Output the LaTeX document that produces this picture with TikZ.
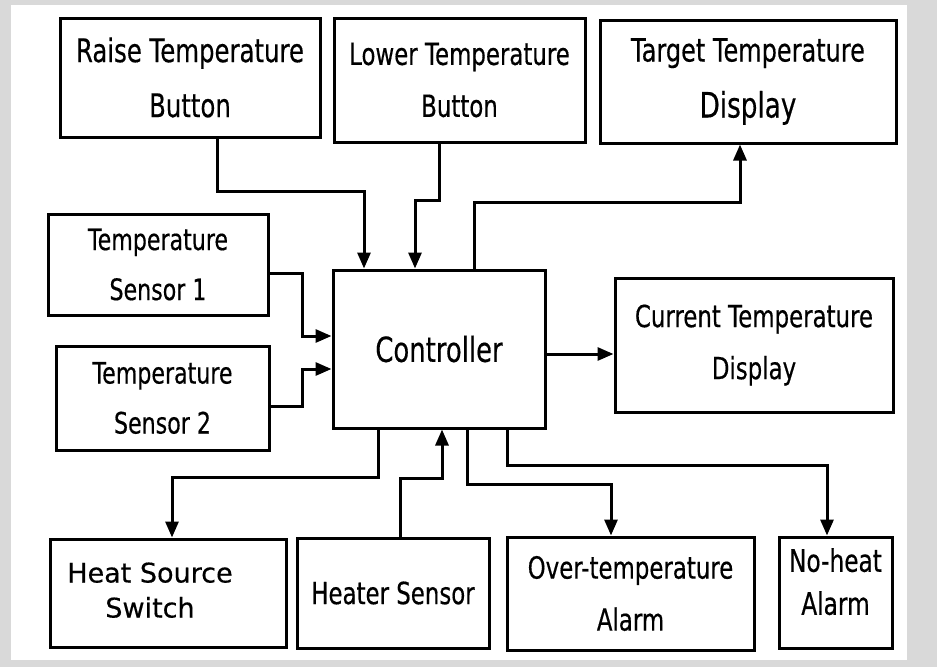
\documentclass[tikz,border=0pt]{standalone}
\usepackage{fontspec}
\setmainfont{DejaVu Sans}[FakeStretch=0.75, FakeBold=0.4]
\newfontfamily\widefont{DejaVu Sans}[FakeBold=0.4]
\usetikzlibrary{arrows.meta}

\begin{document}
\begin{tikzpicture}[x=1pt, y=-1pt,
    blk/.style={draw, line width=3pt, inner sep=0pt, align=center,
      font=\fontsize{30.5}{52}\selectfont},
    conn/.style={line width=3pt, -{Triangle[length=16pt,width=13pt]}}]
  \fill[black!15] (0,0) rectangle (937,667);
  \fill[white] (11,5) rectangle (907,660);
  \useasboundingbox (0,0) rectangle (937,667);

  \node[blk, minimum width=260pt, minimum height=119pt, font=\fontsize{32.5}{55}\selectfont] (raise) at (190,77.5) {Raise Temperature\\Button};
  \node[blk, minimum width=251pt, minimum height=124pt] (lower) at (459.5,80) {Lower Temperature\\Button};
  \node[blk, minimum width=296pt, minimum height=123pt, font=\fontsize{32}{56}\selectfont] (target) at (748,81.5) {Target Temperature\\{\fontsize{35}{56}\selectfont Display}};
  \node[blk, minimum width=220pt, minimum height=101pt, font=\fontsize{29.5}{50}\selectfont] (sensA) at (158,264.5) {Temperature\\Sensor 1};
  \node[blk, minimum width=212pt, minimum height=158pt, font=\fontsize{34.5}{40}\selectfont] (ctrl) at (439,349) {Controller};
  \node[blk, minimum width=278pt, minimum height=134pt] (current) at (754,345) {Current Temperature\\Display};
  \node[blk, minimum width=213pt, minimum height=104pt, font=\fontsize{29.5}{50}\selectfont] (sensB) at (162.5,398) {Temperature\\Sensor 2};
  \node[blk, minimum width=236pt, minimum height=108pt, font=\widefont\fontsize{27}{35}\selectfont] (switch) at (168,593) {\begin{tabular}{@{}c@{\hspace{36pt}}}Heat Source\\Switch\end{tabular}};
  \node[blk, minimum width=192pt, minimum height=110pt] (heater) at (393,593) {Heater Sensor};
  \node[blk, minimum width=247pt, minimum height=113pt] (over) at (630.5,593.5) {Over-temperature\\Alarm};
  \node[blk, minimum width=113pt, minimum height=111pt, text depth=22pt, font=\fontsize{31}{43}\selectfont] (noheat) at (835.5,592.5) {No-heat\\Alarm};

  \draw[conn] (raise.south -| 217,0) -- (217,191) -| (ctrl.north -| 364,0);
  \draw[conn] (lower.south -| 439,0) -- (439,200) -| (ctrl.north -| 415,0);
  \draw[conn] (ctrl.north -| 474,0) -- (474,202) -| (target.south -| 740,0);
  \draw[conn] (sensA.east |- 0,273) -| (302,336) -- (ctrl.west |- 0,336);
  \draw[conn] (sensB.east |- 0,406) -| (302,369) -- (ctrl.west |- 0,369);
  \draw[conn] (ctrl.east |- 0,354) -- (current.west |- 0,354);
  \draw[conn] (ctrl.south -| 378,0) -- (378,477) -| (switch.north -| 172,0);
  \draw[conn] (heater.north -| 400,0) -- (400,478) -| (ctrl.south -| 442,0);
  \draw[conn] (ctrl.south -| 467,0) -- (467,484) -| (over.north -| 611,0);
  \draw[conn] (ctrl.south -| 507,0) -- (507,465) -| (noheat.north -| 827,0);
\end{tikzpicture}
\end{document}
